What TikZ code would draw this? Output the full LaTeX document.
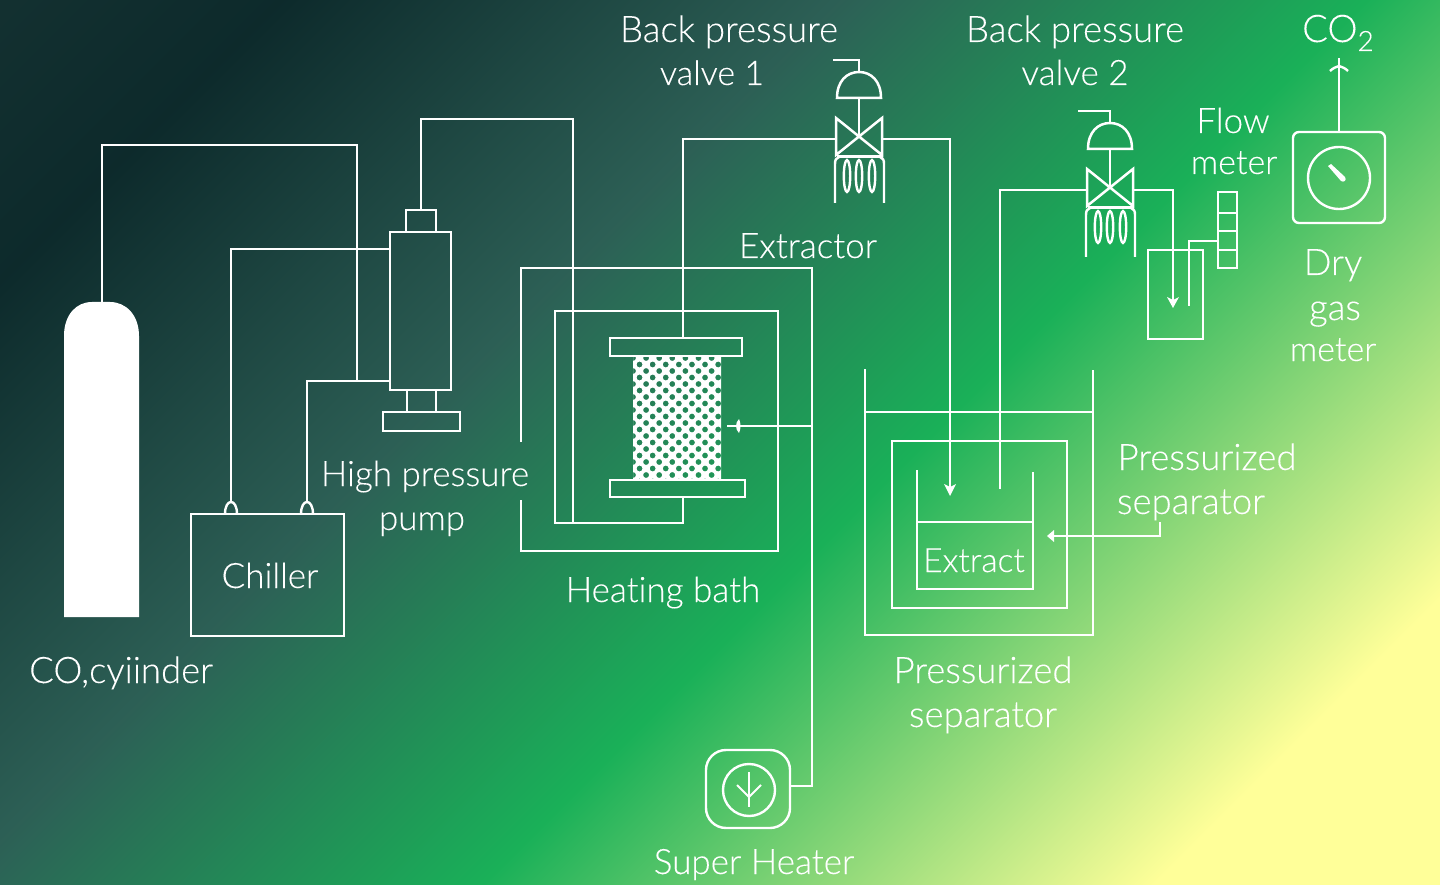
\documentclass[tikz,border=0pt]{standalone}
\usepackage{fontspec}
\setmainfont{Lato Light}[FakeBold=0.12,Ligatures=NoCommon]
\usetikzlibrary{arrows.meta}
\definecolor{g0}{rgb}{0.075,0.19,0.19}
\definecolor{g1}{rgb}{0.05,0.165,0.17}
\definecolor{g2}{rgb}{0.175,0.375,0.335}
\definecolor{g3}{rgb}{0.10,0.69,0.345}
\definecolor{g4}{rgb}{1,1,0.6}
\pgfdeclarehorizontalshading{bggrad}{2400pt}{
 color(0pt)=(g0);
 color(200pt)=(g1);
 color(595pt)=(g2);
 color(965pt)=(g3);
 color(1442pt)=(g4);
 color(1700pt)=(g4)}
\tikzset{
 x=1pt,y=-1pt,
 pipe/.style={draw=white,line width=2.4pt,line join=miter},
 box/.style={draw=white,line width=2.4pt,inner sep=0pt,outer sep=0pt,rectangle},
 lab/.style={text=white,inner sep=0pt,font=\fontsize{36.5}{36.5}\selectfont,anchor=base},
 labm/.style={lab,font=\fontsize{35}{35}\selectfont},
 labs/.style={lab,font=\fontsize{34}{34}\selectfont},
 tip/.style={fill=white,draw=none}
}
\newcommand{\bpv}[4]{% center x, center y, hook x offset, leg bottom offset
 \begin{scope}[shift={(#1,#2)}]
  \draw[pipe,line width=2.5pt,line join=miter] (-23,-21) -- (23,16) -- (23,-21) -- (-23,16) -- cycle;
  \draw[pipe,line width=2.5pt] (-22,-41) -- (22,-41) .. controls (22,-58) and (12,-67) .. (0,-67) .. controls (-12,-67) and (-22,-58) .. (-22,-41) -- cycle;
  \draw[pipe] (0,-41) -- (0,-3);
  \draw[pipe] (0,-67) -- (0,-79) -- (#3,-79);
  \draw[pipe,line width=3pt] (-22,18) -- (24,18);
  \draw[pipe] (-24,#4) -- (-24,25) .. controls (-24,21) and (-23,19) .. (-20,18);
  \draw[pipe] (25,#4) -- (25,25) .. controls (25,21) and (24,19) .. (21,18);
  \foreach \lx in {-12,0,13} \draw[pipe] (\lx,37) ellipse [x radius=3.2,y radius=16];
 \end{scope}}
\begin{document}
\begin{tikzpicture}
\useasboundingbox (0,0) rectangle (1440,885);
\begin{scope}
\clip (0,0) rectangle (1440,885);
\node[rotate=-45,anchor=west,inner sep=0pt,outer sep=0pt] (bg) at (0,0) {\pgfuseshading{bggrad}};
\end{scope}

% cylinder
\fill[white] (64,617) -- (64,336) .. controls (64,315) and (76,302) .. (92,302) -- (110,302) .. controls (126,302) and (139,315) .. (139,336) -- (139,617) -- cycle;
\coordinate (cyltop) at (102,302);

% chiller and pump nodes
\node[box,minimum width=153pt,minimum height=122pt] (chiller) at (267.5,575) {};
\node[box,minimum width=61pt,minimum height=158pt] (pump) at (420.5,311) {};
\node[box,minimum width=30pt,minimum height=22pt] (pumptop) at (421,221) {};
\node[box,minimum width=77pt,minimum height=19pt] (pumpbase) at (421.5,421.5) {};
\draw[pipe] (407,390) -- (407,412);
\draw[pipe] (436,390) -- (436,412);
\coordinate (pa) at (390,249);
\coordinate (pb) at (390,381);
\coordinate (cha) at (231,502);
\coordinate (chb) at (307,502);
\draw[pipe] (225,514) .. controls (225,498) and (237,498) .. (237,514);
\draw[pipe] (301,514) .. controls (301,498) and (313,498) .. (313,514);

\draw[pipe] (cyltop) -- (102,145) -- (357,145) -- (357,381);
\draw[pipe] (cha) -- (231,249) -- (pa);
\draw[pipe] (chb) -- (307,381) -- (pb);

% extractor
\node[box,minimum width=132pt,minimum height=18pt] (ptop) at (676,347) {};
\node[box,minimum width=135pt,minimum height=17pt] (pbot) at (677.5,488.5) {};
\begin{scope}
\clip (633,356) rectangle (721,480);
\fill[white,even odd rule] (633,356) rectangle (721,480)
  \foreach \r in {0,...,19} { \foreach \c in {0,...,7} {
    ({633+\c*13.1+mod(\r,2)*6.55},{358+\r*6.5}) circle (3) } };
\end{scope}

% heating bath and inner
\draw[pipe] (521,442) -- (521,268) -- (812,268) -- (812,786) -- (790,786);
\draw[pipe] (521,500) -- (521,551) -- (778,551) -- (778,311) -- (555,311) -- (555,523) -- (573,523);
\coordinate (pbotb) at (683,497);
\draw[pipe] (pumptop.north) -- (421,119) -- (573,119) -- (573,523) -- (683,523) -- (pbotb);

% valves
\bpv{859}{139}{-26}{64}
\bpv{1110}{190}{-32}{67}
\coordinate (v1in) at (836,139);
\coordinate (v1out) at (882,139);
\coordinate (v2in) at (1087,190);
\coordinate (v2out) at (1133,190);
\coordinate (ptopt) at (683,338);
\draw[pipe] (ptopt) -- (683,139) -- (v1in);

% separator
\draw[pipe] (865,369) -- (865,635) -- (1093,635) -- (1093,370);
\draw[pipe] (865,412) -- (1093,412);
\node[box,minimum width=175pt,minimum height=167pt] (sepmid) at (979.5,524.5) {};
\draw[pipe] (917,470) -- (917,589) -- (1033,589) -- (1033,472);
\draw[pipe] (917,522) -- (1033,522);
\coordinate (sepin) at (950,488);
\coordinate (sepout) at (1000,489);
\draw[pipe] (v1out) -- (950,139) -- (sepin);
\fill[tip] (950,496) -- (944,484) -- (950,487) -- (956,484) -- cycle;
\draw[pipe] (sepout) -- (1000,190) -- (v2in);

% beaker and flow meter
\node[box,minimum width=55pt,minimum height=89pt] (beaker) at (1175.5,294.5) {};
\node[box,minimum width=19pt,minimum height=76pt] (flow) at (1227.5,230) {};
\draw[pipe] (1218,213) -- (1237,213);
\draw[pipe] (1218,231) -- (1237,231);
\draw[pipe] (1218,250) -- (1237,250);
\coordinate (fa) at (1218,241);
\coordinate (ba) at (1189,306);
\coordinate (bb) at (1173,304);
\draw[pipe] (v2out) -- (1173,190) -- (bb);
\fill[tip] (1173,308) -- (1167,297) -- (1173,300) -- (1179,297) -- cycle;
\draw[pipe] (ba) -- (1189,241) -- (fa);

% dry gas meter
\node[box,rounded corners=6pt,minimum width=92pt,minimum height=91pt] (dgm) at (1339,177.5) {};
\draw[pipe] (1339,178) circle (31);
\fill[white] (1328,166) -- (1331,164) -- (1345,177) .. controls (1347,180) and (1344,183) .. (1341,181) -- cycle;
\coordinate (co2pt) at (1339,58);
\draw[pipe] (dgm.north) -- (co2pt);
\draw[pipe] (1330,71) .. controls (1333,68) and (1336,67) .. (1339,66) .. controls (1342,67) and (1345,68) .. (1348,71);

% heater
\node[box,rounded corners=20pt,minimum width=84pt,minimum height=78pt] (heater) at (748,789) {};
\draw[pipe] (749,790) circle (26);
\draw[pipe,line width=2pt] (749,772) -- (749,807);
\draw[pipe,line width=2pt] (737,785) -- (749,797) -- (761,785);

% heater branch arrow
\coordinate (ha) at (812,426);
\coordinate (hb) at (727,426);
\draw[pipe] (ha) -- (hb);
\fill[tip] (739,419) .. controls (735,423) and (735,429) .. (739,433) .. controls (741,429) and (741,423) .. (739,419) -- cycle;

% separator arrow
\coordinate (sa) at (1160,522);
\coordinate (sb) at (1052,536);
\draw[pipe] (sa) -- (1160,536) -- (sb);
\fill[tip] (1047,536) -- (1054,530) -- (1054,542) -- cycle;

% labels
\node[lab] (t1) at (729,42) {Back pressure};
\node[labs] (t2) at (712,85) {valve 1};
\node[lab] (t3) at (1075,42) {Back pressure};
\node[labm] (t4) at (1075,85) {valve 2};
\node[labm] (t5) at (1233,133) {Flow};
\node[labs] (t6) at (1234,174) {meter};
\node[lab,anchor=base west,font=\fontsize{38}{38}\selectfont] (t7) at (1302,42) {CO\raisebox{-9pt}{\fontsize{28}{28}\selectfont 2}};
\node[labm] (t8) at (808,258) {Extractor};
\node[labm] (t9) at (425,486) {High pressure};
\node[labm] (t10) at (422,530) {pump};
\node[labm] (tchiller) at (270,588) {Chiller};
\node[labm] (t11) at (663,602) {Heating bath};
\node[lab,anchor=base west] (t12) at (29,683) {CO,cyiinder};
\node[lab] (t13) at (983,683) {Pressurized};
\node[lab] (t14) at (983,727) {separator};
\node[lab] (t15) at (1207,470) {Pressurized};
\node[lab] (t16) at (1191,514) {separator};
\node[lab,font=\fontsize{33.5}{33.5}\selectfont] (t17) at (974,572) {Extract};
\node[labm] (t18) at (754,874) {Super Heater};
\node[lab] (t19) at (1333,275) {Dry};
\node[lab] (t20) at (1335,320) {gas};
\node[labs] (t21) at (1333,361) {meter};
\end{tikzpicture}
\end{document}
